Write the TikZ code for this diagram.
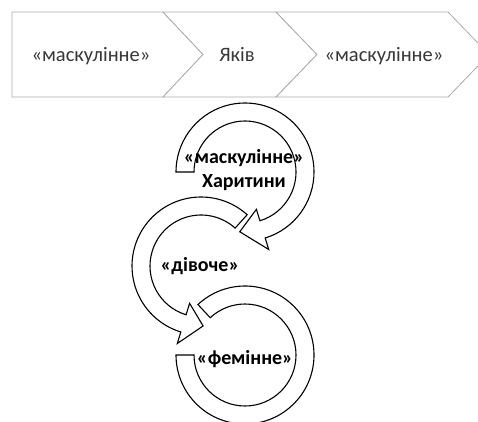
\documentclass[tikz,border=0pt]{standalone}
\usepackage{fontspec}
\setmainfont{Carlito}
\usetikzlibrary{positioning,calc}
\tikzset{chev/.style={draw=gray!65, line width=0.8pt, fill=white, line join=miter}}
\tikzset{ringarr/.style={draw=black, line width=1.1pt, fill=white, line join=miter}}
\tikzset{chevtxt/.style={text=black!78, font=\fontsize{20.5}{24}\selectfont, inner sep=0pt, anchor=base}}
\tikzset{ringtxt/.style={text=black, font=\bfseries\fontsize{20}{24}\selectfont, inner sep=0pt, align=center}}

\begin{document}
\begin{tikzpicture}
		\clip (0,0) rectangle (478pt,-421pt);
		% chevron row
		\draw[chev] (12pt,-12pt) -- (163pt,-12pt) -- (203pt,-54.5pt) -- (163pt,-97pt) -- (12pt,-97pt) -- cycle;
		\draw[chev] (163pt,-12pt) -- (276pt,-12pt) -- (317pt,-54.5pt) -- (276pt,-97pt) -- (163pt,-97pt) -- (203pt,-54.5pt) -- cycle;
		\draw[chev] (276pt,-12pt) -- (448pt,-12pt) -- (489pt,-54.5pt) -- (448pt,-97pt) -- (276pt,-97pt) -- (317pt,-54.5pt) -- cycle;
		\node[chevtxt] (M1) at (91pt,-61.5pt) {«маскулінне»};
		\node[chevtxt] (J) at (237pt,-61.5pt) {Яків};
		\node[chevtxt] (M2) at (384pt,-61.5pt) {«маскулінне»};
%
		\coordinate (Ctop) at (245pt,-172pt);
		\coordinate (Cmid) at (201pt,-266pt);
		\coordinate (Cbot) at (245pt,-355pt);
		% ring arrows
		\draw[ringarr] ($(Ctop)+(180:69pt)$) arc[start angle=180, end angle=-73, radius=69pt]
			-- ($(Ctop)+(-73:81pt)$) -- ($(Ctop)+(-95:60pt)$) -- ($(Ctop)+(-73:39pt)$)
			-- ($(Ctop)+(-73:51pt)$) arc[start angle=-73, end angle=180, radius=51pt] -- cycle;
		\draw[ringarr] ($(Cmid)+(48:69pt)$) arc[start angle=48, end angle=253, radius=69pt]
			-- ($(Cmid)+(253:81pt)$) -- ($(Cmid)+(272:60pt)$) -- ($(Cmid)+(253:39pt)$)
			-- ($(Cmid)+(253:51pt)$) arc[start angle=253, end angle=48, radius=51pt] -- cycle;
		\draw[ringarr] ($(Cbot)+(133:69pt)$) arc[start angle=133, end angle=-180, radius=69pt]
			-- ($(Cbot)+(180:51pt)$) arc[start angle=-180, end angle=133, radius=51pt] -- cycle;
		\node[ringtxt] (Xar) at (244pt,-170pt) {«маскулінне»\\Харитини};
		\node[ringtxt] (Div) at (200pt,-266pt) {«дівоче»};
		\node[ringtxt] (Fem) at (245pt,-359pt) {«фемінне»};
	\end{tikzpicture}
\end{document}
